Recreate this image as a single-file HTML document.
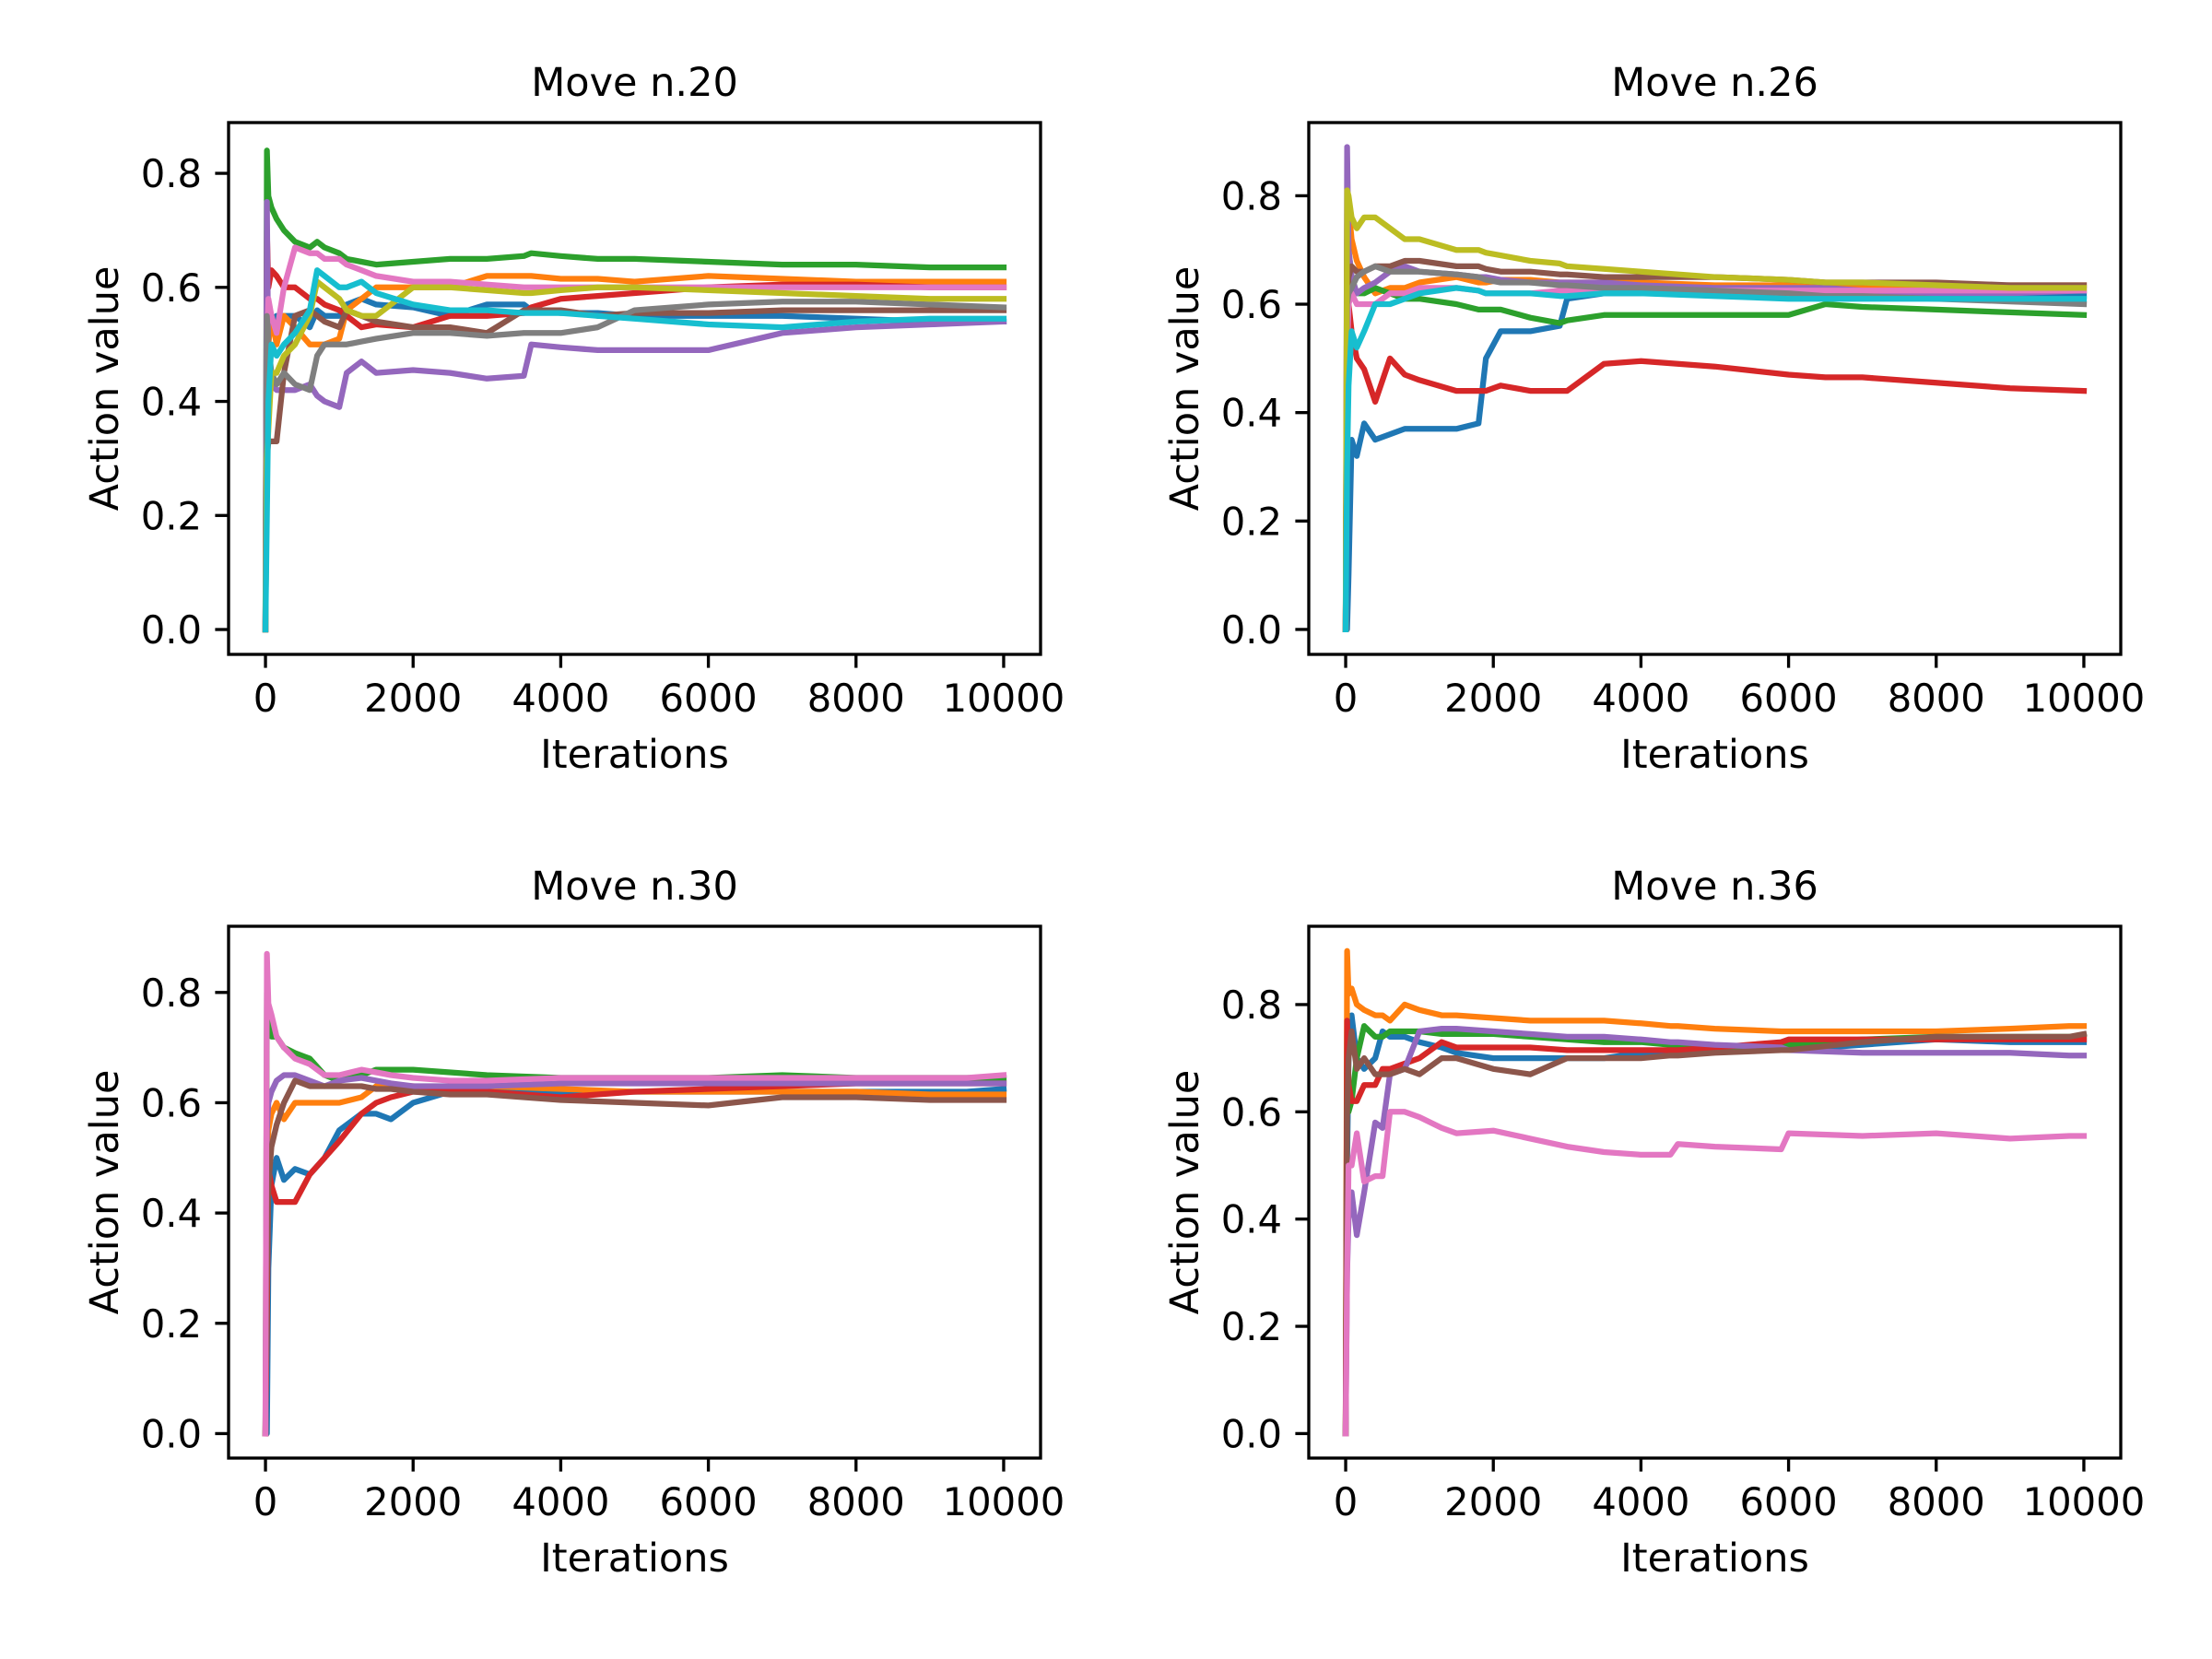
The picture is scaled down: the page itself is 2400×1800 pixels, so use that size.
<!DOCTYPE html>
<html><head><meta charset="utf-8">
<style>
html,body{margin:0;padding:0;background:#fff;}
svg{display:block;}
text{font-family:"DejaVu Sans","Liberation Sans",sans-serif;fill:#000;}
</style></head>
<body>
<svg id="fig" xmlns="http://www.w3.org/2000/svg" width="2400" height="1800" viewBox="0 0 2400 1800"></svg>
<script>
// ---------- Data ----------
const colorNames = ["blue","orange","green","red","purple","brown","pink","gray","olive","cyan"];
const p1Iter = [0,20,40,80,150,250,400,600,700,800,1000,1100,1300,1500,2000,2500,3000,3500,3600,4000,4500,5000,6000,7000,8000,9000,10000];
const p1Blue   = [0,0.5,0.52,0.53,0.55,0.55,0.55,0.53,0.56,0.55,0.55,0.57,0.58,0.57,0.565,0.55,0.57,0.57,0.56,0.555,0.555,0.55,0.55,0.55,0.545,0.54,0.54];
const p1Orange = [0,0.4,0.5,0.55,0.5,0.55,0.53,0.5,0.5,0.5,0.51,0.56,0.58,0.6,0.6,0.6,0.62,0.62,0.62,0.615,0.615,0.61,0.62,0.615,0.61,0.61,0.61];
const p1Green  = [0,0.84,0.76,0.74,0.72,0.70,0.68,0.67,0.68,0.67,0.66,0.65,0.645,0.64,0.645,0.65,0.65,0.655,0.66,0.655,0.65,0.65,0.645,0.64,0.64,0.635,0.635];
const p1Red    = [0,0.7,0.6,0.63,0.62,0.6,0.6,0.58,0.58,0.57,0.56,0.55,0.53,0.535,0.53,0.55,0.55,0.555,0.565,0.58,0.585,0.59,0.6,0.605,0.605,0.6,0.6];
const p1Purple = [0,0.75,0.45,0.43,0.42,0.42,0.42,0.43,0.41,0.40,0.39,0.45,0.47,0.45,0.455,0.45,0.44,0.445,0.50,0.495,0.49,0.49,0.49,0.52,0.53,0.535,0.54];
const p1Brown  = [0,0.3,0.33,0.33,0.33,0.45,0.55,0.56,0.55,0.54,0.53,0.56,0.55,0.54,0.53,0.53,0.52,0.56,0.56,0.56,0.55,0.555,0.555,0.56,0.56,0.56,0.56];
const p1Pink   = [0,0.5,0.58,0.55,0.52,0.6,0.67,0.66,0.66,0.65,0.65,0.64,0.63,0.62,0.61,0.61,0.605,0.6,0.6,0.6,0.6,0.6,0.6,0.6,0.6,0.6,0.6];
const p1Gray   = [0,0.55,0.5,0.45,0.43,0.45,0.43,0.42,0.48,0.5,0.5,0.5,0.505,0.51,0.52,0.52,0.515,0.52,0.52,0.52,0.53,0.56,0.57,0.575,0.575,0.57,0.565];
const p1Olive  = [0,0.3,0.35,0.45,0.45,0.48,0.5,0.55,0.61,0.6,0.58,0.56,0.55,0.55,0.6,0.6,0.595,0.59,0.59,0.595,0.6,0.6,0.595,0.59,0.585,0.58,0.58];
const p1Cyan   = [0,0.2,0.4,0.5,0.48,0.5,0.52,0.56,0.63,0.62,0.6,0.6,0.61,0.59,0.57,0.56,0.56,0.555,0.555,0.555,0.55,0.545,0.535,0.53,0.54,0.545,0.545];

const p2Iter = [0,20,40,80,150,250,400,600,800,1000,1500,1800,1900,2100,2500,2900,3000,3500,4000,5000,6000,6500,7000,8000,9000,10000];
const p2Blue   = [0,0,0.1,0.35,0.32,0.38,0.35,0.36,0.37,0.37,0.37,0.38,0.5,0.55,0.55,0.56,0.61,0.62,0.62,0.63,0.625,0.62,0.62,0.62,0.615,0.615];
const p2Orange = [0,0.7,0.78,0.72,0.68,0.65,0.62,0.63,0.63,0.64,0.65,0.64,0.64,0.645,0.645,0.64,0.64,0.64,0.64,0.635,0.635,0.63,0.63,0.63,0.635,0.635];
const p2Green  = [0,0.6,0.7,0.65,0.62,0.62,0.63,0.62,0.61,0.61,0.6,0.59,0.59,0.59,0.575,0.565,0.57,0.58,0.58,0.58,0.58,0.6,0.595,0.59,0.585,0.58];
const p2Red    = [0,0.75,0.6,0.55,0.5,0.48,0.42,0.5,0.47,0.46,0.44,0.44,0.44,0.45,0.44,0.44,0.44,0.49,0.495,0.485,0.47,0.465,0.465,0.455,0.445,0.44];
const p2Purple = [0,0.89,0.7,0.65,0.62,0.63,0.64,0.66,0.67,0.66,0.655,0.65,0.65,0.645,0.64,0.64,0.64,0.64,0.635,0.63,0.63,0.63,0.625,0.62,0.62,0.625];
const p2Brown  = [0,0.6,0.65,0.67,0.66,0.66,0.67,0.67,0.68,0.68,0.67,0.67,0.665,0.66,0.66,0.655,0.655,0.65,0.65,0.65,0.645,0.64,0.64,0.64,0.635,0.635];
const p2Pink   = [0,0.5,0.6,0.62,0.6,0.6,0.6,0.62,0.62,0.63,0.63,0.625,0.62,0.62,0.62,0.625,0.625,0.625,0.625,0.625,0.625,0.625,0.625,0.625,0.625,0.625];
const p2Gray   = [0,0.6,0.62,0.63,0.65,0.66,0.67,0.66,0.66,0.66,0.655,0.65,0.645,0.64,0.64,0.635,0.635,0.63,0.63,0.625,0.62,0.615,0.615,0.61,0.605,0.6];
const p2Olive  = [0,0.81,0.8,0.76,0.74,0.76,0.76,0.74,0.72,0.72,0.7,0.7,0.695,0.69,0.68,0.675,0.67,0.665,0.66,0.65,0.645,0.64,0.64,0.635,0.63,0.63];
const p2Cyan   = [0,0.3,0.45,0.55,0.52,0.55,0.6,0.6,0.61,0.62,0.63,0.625,0.62,0.62,0.62,0.615,0.615,0.62,0.62,0.615,0.61,0.61,0.61,0.61,0.61,0.61];

const p3Iter = [0,20,40,80,150,250,400,600,800,1000,1300,1500,1700,2000,2500,3000,4000,5000,6000,7000,8000,9000,9500,10000];
const p3Blue   = [0,0,0.3,0.45,0.5,0.46,0.48,0.47,0.5,0.55,0.58,0.58,0.57,0.6,0.62,0.625,0.62,0.62,0.62,0.62,0.62,0.62,0.62,0.625];
const p3Orange = [0,0.4,0.55,0.58,0.6,0.57,0.6,0.6,0.6,0.6,0.61,0.63,0.63,0.63,0.625,0.63,0.625,0.62,0.62,0.62,0.62,0.615,0.615,0.615];
const p3Green  = [0,0.8,0.76,0.72,0.72,0.7,0.69,0.68,0.65,0.64,0.65,0.66,0.66,0.66,0.655,0.65,0.645,0.645,0.645,0.65,0.645,0.645,0.645,0.645];
const p3Red    = [0,0.2,0.48,0.45,0.42,0.42,0.42,0.47,0.5,0.53,0.58,0.6,0.61,0.62,0.62,0.62,0.61,0.62,0.625,0.63,0.635,0.635,0.635,0.635];
const p3Purple = [0,0.55,0.6,0.62,0.64,0.65,0.65,0.64,0.63,0.64,0.645,0.64,0.635,0.63,0.63,0.63,0.635,0.635,0.635,0.635,0.635,0.635,0.635,0.635];
const p3Brown  = [0,0.3,0.45,0.52,0.56,0.6,0.64,0.63,0.63,0.63,0.63,0.625,0.625,0.62,0.615,0.615,0.605,0.6,0.595,0.61,0.61,0.605,0.605,0.605];
const p3Pink   = [0,0.87,0.78,0.76,0.72,0.7,0.68,0.67,0.65,0.65,0.66,0.655,0.65,0.645,0.64,0.64,0.645,0.645,0.645,0.645,0.645,0.645,0.645,0.65];

const p4Iter = [0,20,40,80,150,250,400,500,600,800,1000,1300,1500,2000,2500,3000,3500,4000,4400,4500,5000,5900,6000,7000,8000,9000,9800,10000];
const p4Blue   = [0,0.5,0.7,0.78,0.7,0.68,0.7,0.75,0.74,0.74,0.73,0.72,0.71,0.7,0.7,0.7,0.7,0.71,0.715,0.715,0.715,0.715,0.715,0.725,0.735,0.73,0.73,0.73];
const p4Orange = [0,0.9,0.82,0.83,0.8,0.79,0.78,0.78,0.77,0.8,0.79,0.78,0.78,0.775,0.77,0.77,0.77,0.765,0.76,0.76,0.755,0.75,0.75,0.75,0.75,0.755,0.76,0.76];
const p4Green  = [0,0.75,0.6,0.62,0.7,0.76,0.74,0.74,0.75,0.75,0.75,0.745,0.745,0.745,0.74,0.735,0.73,0.73,0.725,0.725,0.72,0.72,0.725,0.735,0.74,0.74,0.74,0.74];
const p4Red    = [0,0.77,0.65,0.62,0.62,0.65,0.65,0.68,0.68,0.69,0.7,0.73,0.72,0.72,0.72,0.715,0.715,0.715,0.715,0.715,0.72,0.73,0.735,0.735,0.735,0.735,0.735,0.735];
const p4Purple = [0,0.3,0.4,0.45,0.37,0.45,0.58,0.57,0.67,0.68,0.75,0.755,0.755,0.75,0.745,0.74,0.74,0.735,0.73,0.73,0.725,0.72,0.715,0.71,0.71,0.71,0.705,0.705];
const p4Brown  = [0,0.6,0.7,0.75,0.68,0.7,0.67,0.67,0.67,0.68,0.67,0.7,0.7,0.68,0.67,0.7,0.7,0.7,0.705,0.705,0.71,0.715,0.715,0.73,0.74,0.74,0.74,0.745];
const p4Pink   = [0,0.3,0.5,0.5,0.56,0.47,0.48,0.48,0.6,0.6,0.59,0.57,0.56,0.565,0.55,0.535,0.525,0.52,0.52,0.54,0.535,0.53,0.56,0.555,0.56,0.55,0.555,0.555];

const xTickValues = [0,2000,4000,6000,8000,10000];
const yTickValues = [0.0,0.2,0.4,0.6,0.8];
const titles = ["Move n.20","Move n.26","Move n.30","Move n.36"];

// ---------- Layout (not data) ----------
const palette = ["#1f77b4","#ff7f0e","#2ca02c","#d62728","#9467bd","#8c564b","#e377c2","#7f7f7f","#bcbd22","#17becf"];
const panels = [
  {L:248,R:1129,T:133,B:710,ymin:-0.0436,ymax:0.889,iter:p1Iter,series:[p1Blue,p1Orange,p1Green,p1Red,p1Purple,p1Brown,p1Pink,p1Gray,p1Olive,p1Cyan]},
  {L:1420,R:2301,T:133,B:710,ymin:-0.046,ymax:0.935,iter:p2Iter,series:[p2Blue,p2Orange,p2Green,p2Red,p2Purple,p2Brown,p2Pink,p2Gray,p2Olive,p2Cyan]},
  {L:248,R:1129,T:1005,B:1582,ymin:-0.0444,ymax:0.92,iter:p3Iter,series:[p3Blue,p3Orange,p3Green,p3Red,p3Purple,p3Brown,p3Pink]},
  {L:1420,R:2301,T:1005,B:1582,ymin:-0.0457,ymax:0.946,iter:p4Iter,series:[p4Blue,p4Orange,p4Green,p4Red,p4Purple,p4Brown,p4Pink]}
];
const NS = "http://www.w3.org/2000/svg";
const svg = document.getElementById("fig");
function mk(tag, attrs, parent){
  const e = document.createElementNS(NS, tag);
  for (const k in attrs) e.setAttribute(k, attrs[k]);
  parent.appendChild(e);
  return e;
}
panels.forEach((p, pi) => {
  const xmin = -500, xmax = 10500;
  const sx = v => p.L + (v - xmin) / (xmax - xmin) * (p.R - p.L);
  const sy = v => p.B - (v - p.ymin) / (p.ymax - p.ymin) * (p.B - p.T);
  const g = mk("g", {}, svg);
  
  
  const clipId = "clip" + pi;
  const cp = mk("clipPath", {id: clipId}, g);
  mk("rect", {x: p.L, y: p.T, width: p.R - p.L, height: p.B - p.T}, cp);
  const lines = mk("g", {"clip-path": "url(#" + clipId + ")"}, g);
  p.series.forEach((ys, si) => {
    const d = ys.map((v, i) => (i ? "L" : "M") + sx(p.iter[i]).toFixed(1) + " " + sy(v).toFixed(1)).join(" ");
    const path = mk("path", {d: d, fill: "none", stroke: palette[si], "stroke-width": 6.25, "stroke-linejoin": "round", "stroke-linecap": "square"}, lines);
    
    
  });
  const frame = mk("rect", {x: p.L, y: p.T, width: p.R - p.L, height: p.B - p.T, fill: "none", stroke: "#000", "stroke-width": 3.33}, g);
  
  
  xTickValues.forEach(v => {
    const x = sx(v);
    const t = mk("line", {x1: x, x2: x, y1: p.B, y2: p.B + 14.6, stroke: "#000", "stroke-width": 3.33}, g);
    
    
    const lb = mk("text", {x: x, y: p.B + 62, "font-size": 41.7, "text-anchor": "middle"}, g);
    lb.textContent = String(v);
    
    
  });
  yTickValues.forEach(v => {
    const y = sy(v);
    const t = mk("line", {x1: p.L - 14.6, x2: p.L, y1: y, y2: y, stroke: "#000", "stroke-width": 3.33}, g);
    
    
    const lb = mk("text", {x: p.L - 29, y: y + 15, "font-size": 41.7, "text-anchor": "end"}, g);
    lb.textContent = v.toFixed(1);
    
    
  });
  const cx = (p.L + p.R) / 2;
  const title = mk("text", {x: cx, y: p.T - 29, "font-size": 43, "text-anchor": "middle"}, g);
  title.textContent = titles[pi];
  
  
  const xl = mk("text", {x: cx, y: p.B + 123, "font-size": 43, "text-anchor": "middle"}, g);
  xl.textContent = "Iterations";
  
  
  const cy = (p.T + p.B) / 2;
  const yx = p.L - 120;
  const yl = mk("text", {x: yx, y: cy, "font-size": 43, "text-anchor": "middle", transform: "rotate(-90 " + yx + " " + cy + ")"}, g);
  yl.textContent = "Action value";
  
  
});
</script>
</body></html>
